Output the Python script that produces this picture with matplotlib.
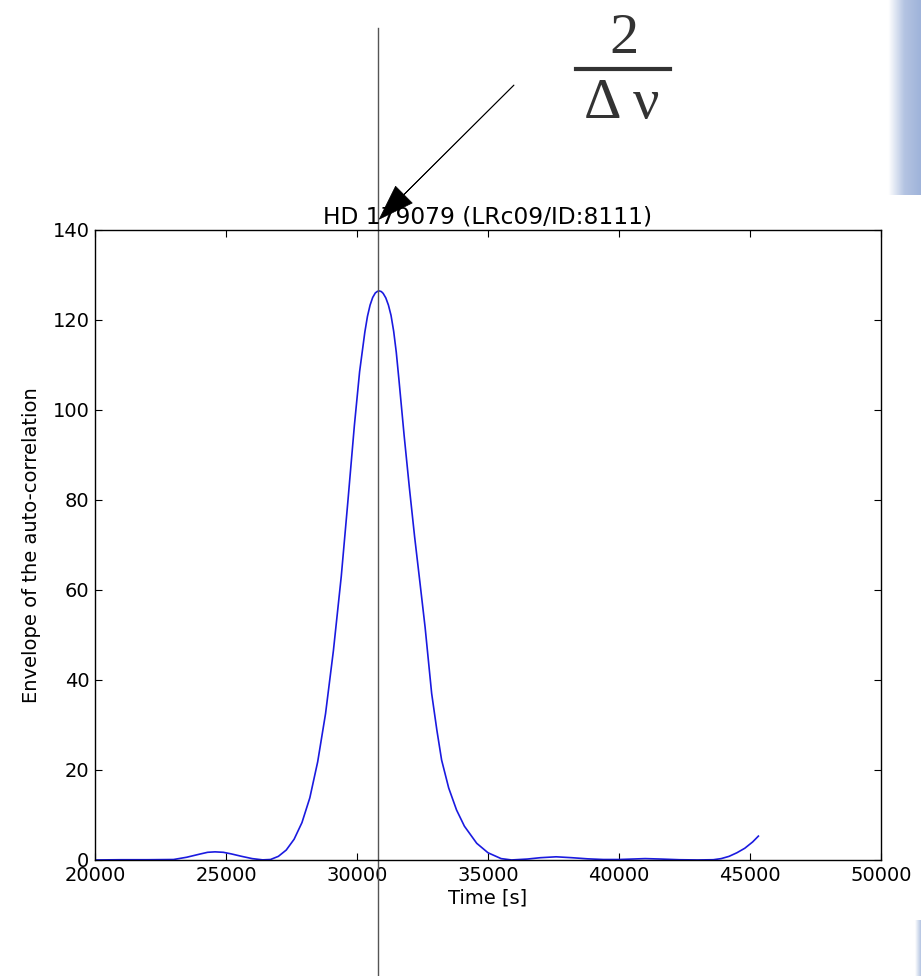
import numpy as np
import matplotlib.pyplot as plt
from matplotlib.lines import Line2D
from matplotlib.colors import LinearSegmentedColormap

# envelope of the auto-correlation
time_s = [20000, 21000, 22000, 23000, 23500, 24000, 24300, 24580, 24900, 25200,
          25600, 26000, 26400, 26700, 27000, 27300, 27600, 27900, 28200, 28500,
          28800, 29100, 29400, 29650, 29900, 30100, 30300, 30400, 30500, 30600,
          30700, 30780, 30850, 30930, 31000, 31100, 31200, 31300, 31400, 31500,
          31600, 31800, 32000, 32200, 32400, 32600, 32850,
          33050, 33230, 33500, 33800, 34100, 34570, 35000, 35500, 35900, 36500,
          37000, 37600, 38200, 38800, 39400, 40000, 40500, 41000, 41600, 42300,
          43000, 43600, 43900, 44200, 44500, 44800, 45100, 45320]
envelope = [0.0, 0.05, 0.05, 0.1, 0.6, 1.3, 1.7, 1.8, 1.7, 1.35,
            0.8, 0.3, 0.02, 0.1, 0.8, 2.2, 4.6, 8.3, 13.8, 21.8,
            32.5, 46.5, 63.0, 79.5, 96.5, 108.5, 117.3, 120.8, 123.3, 125.0,
            126.0, 126.35, 126.45, 126.3, 125.9, 124.9, 123.3, 121.0, 117.5, 112.8,
            106.8, 94.3, 82.7, 71.8, 61.8, 51.7, 37.0,
            28.8, 22.2, 16.0, 11.1, 7.5, 3.7, 1.6, 0.3, 0.0, 0.2,
            0.5, 0.7, 0.5, 0.25, 0.1, 0.1, 0.2, 0.3, 0.2, 0.05,
            0.0, 0.05, 0.3, 0.8, 1.6, 2.6, 4.0, 5.3]

marker_time = 30800
arrow_tip = (30851, 142.4)
arrow_tail = (35992, 172.2)
xticks = [20000, 25000, 30000, 35000, 40000, 45000, 50000]
yticks = [0, 20, 40, 60, 80, 100, 120, 140]

plt.rcParams['font.size'] = 14
plt.rcParams['xtick.direction'] = 'in'
plt.rcParams['ytick.direction'] = 'in'

fig = plt.figure(figsize=(9.21, 9.76), dpi=100)
ax = fig.add_axes([0.1031, 0.1189, 0.8535, 0.6455])

ax.plot(time_s, envelope, color='#1a1ae0', lw=1.2)
ax.set_xlim(20000, 50000)
ax.set_ylim(0, 140)
ax.set_xticks(xticks)
ax.set_yticks(yticks)
ax.tick_params(top=True, right=True, length=5, width=0.8, pad=4)
for s in ax.spines.values():
    s.set_linewidth(1.0)

ax.set_xlabel('Time [s]', fontsize=14, labelpad=3)
ax.set_ylabel('Envelope of the auto-correlation', fontsize=14, labelpad=8)
ax.set_title('HD 179079 (LRc09/ID:8111)', fontsize=16.8, pad=5)

# vertical marker running over the whole figure height
ax.axvline(marker_time, ymin=-0.184, ymax=1.3206, color='#555555', lw=1.0,
           clip_on=False)

ax.annotate('', xy=arrow_tip, xytext=arrow_tail, annotation_clip=False,
            arrowprops=dict(facecolor='black', edgecolor='black', lw=0.5,
                            width=0.3, headwidth=17, headlength=25, shrink=0))

# 2 / (Delta nu) label
fig.text(0.677, 1 - 53 / 976, '2', ha='center', va='baseline',
         family='Liberation Serif', fontsize=42, color='#333333')
fig.text(0.675, 1 - 118 / 976, '\u0394 \u03bd', ha='center', va='baseline',
         family='Liberation Serif', fontsize=42, color='#333333')
fig.add_artist(Line2D([576 / 921, 670 / 921], [1 - 69 / 976, 1 - 69 / 976],
                      transform=fig.transFigure, color='#333333', lw=3))

# faint blue slide decoration at the right edge
grad = np.linspace(0, 1, 40)[None, :]
deco = fig.add_axes([888 / 921, 1 - 195 / 976, 33 / 921, 195 / 976])
deco.imshow(grad, aspect='auto', cmap=LinearSegmentedColormap.from_list(
    'deco', ['#ffffff', '#b4c4e2', '#9fb3da']))
deco.axis('off')
deco2 = fig.add_axes([915 / 921, 0, 6 / 921, 56 / 976])
deco2.imshow(grad, aspect='auto', cmap=LinearSegmentedColormap.from_list(
    'deco2', ['#ffffff', '#b4c4e2']))
deco2.axis('off')

fig.savefig('out.png', dpi=100)
